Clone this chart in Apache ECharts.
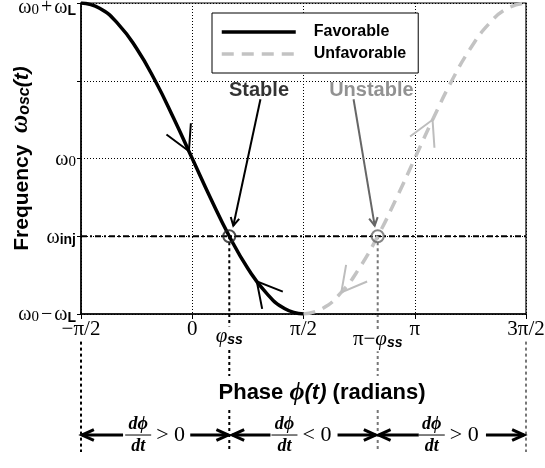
<!DOCTYPE html>
<html>
<head>
<meta charset="utf-8">
<script src="https://cdn.jsdelivr.net/npm/echarts@6/dist/echarts.min.js"></script>
<style>
  html, body { margin: 0; padding: 0; background: #fff; }
  #chart { width: 545px; height: 468px; }
</style>
</head>
<body>
<div id="chart"></div>
<script>
// phase in units of pi/2 (-1 = -pi/2 ... 3 = 3pi/2), frequency in units of wL around w0
const xTickLabels = ['−π/2', '0', 'π/2', 'π', '3π/2'];
const yTickValues = [-1, -0.5, 0, 0.5, 1];
const yTickLabels = [
  '{w|ω}{s|0}{o|−}{w|ω}{L|L}',
  '{w|ω}{L|inj}',
  '{w|ω}{s|0}',
  '',
  '{sp| }{w|ω}{s|0}{o|+}{w|ω}{L|L}'
];

const favPhase = [-1, -0.833, -0.667, -0.5, -0.333, -0.167, 0, 0.167, 0.333, 0.5, 0.667, 0.833, 1];
const favFreq = [1, 0.966, 0.866, 0.707, 0.5, 0.259, 0, -0.259, -0.5, -0.707, -0.866, -0.966, -1];
const unfavPhase = [1, 1.167, 1.333, 1.5, 1.667, 1.833, 2, 2.167, 2.333, 2.5, 2.667, 2.833, 3];
const unfavFreq = [-1, -0.966, -0.866, -0.707, -0.5, -0.259, 0, 0.259, 0.5, 0.707, 0.866, 0.966, 1];

const lockPhase = [0.333, 1.667]; // phi_ss and pi - phi_ss
const injFreq = -0.5;

// flow marks on the curves: [tip x, tip y, tail x, tail y]
const favFlow = [[-0.03, 0.047, -0.13, 0.203], [0.58, -0.79, 0.68, -0.876]];
const unfavFlow = [[2.16, 0.249, 2.06, 0.094], [1.34, -0.861, 1.44, -0.771]];

// notes and the pointers from them to the lock points
const notes = ['Stable', 'Unstable'];
const noteColors = ['#000', '#777'];
const notePhase = [0.6, 1.61];
const noteFreq = [0.44, 0.44];
const pointerStable = [[0.613, 0.381, 0.369, -0.432]];
const pointerUnstable = [[1.45, 0.381, 1.64, -0.432]];

// bottom strip (0 = bottom, 1 = axis line)
const rowY = 0.123;
const fracPhase = [-0.486, 0.829, 2.153];
const fracSign = ['>', '<', '>'];
const rowArrows = [
  [-0.622, rowY, -0.991, rowY], [-0.018, rowY, 0.324, rowY],
  [0.703, rowY, 0.36, rowY], [1.306, rowY, 1.649, rowY],
  [2.036, rowY, 1.676, rowY], [2.64, rowY, 2.982, rowY]
];

const chart = echarts.init(document.getElementById('chart'));

function chevron(tip, tail, len, half) {
  const a = Math.atan2(tail[1] - tip[1], tail[0] - tip[0]);
  return [
    [tip[0] + len * Math.cos(a - half), tip[1] + len * Math.sin(a - half)],
    tip,
    [tip[0] + len * Math.cos(a + half), tip[1] + len * Math.sin(a + half)]
  ];
}

function headOnly(color, len, half, width) {
  return function (params, api) {
    const tip = api.coord([api.value(0), api.value(1)]);
    const tail = api.coord([api.value(2), api.value(3)]);
    return {
      type: 'polyline',
      shape: { points: chevron(tip, tail, len, half) },
      style: { fill: 'none', stroke: color, lineWidth: width }
    };
  };
}

function fullArrow(color, len, half, width) {
  return function (params, api) {
    const start = api.coord([api.value(0), api.value(1)]);
    const end = api.coord([api.value(2), api.value(3)]);
    return {
      type: 'group',
      children: [
        { type: 'line', shape: { x1: start[0], y1: start[1], x2: end[0], y2: end[1] },
          style: { stroke: color, lineWidth: width } },
        { type: 'polyline', shape: { points: chevron(end, start, len, half) },
          style: { fill: 'none', stroke: color, lineWidth: width } }
      ]
    };
  };
}

const serif = '"Liberation Serif", "DejaVu Serif", serif';
const sans = '"Liberation Sans", Arial, sans-serif';

function dropLine(x, from, to, color, grid) {
  return {
    type: 'line', xAxisIndex: grid, yAxisIndex: grid, z: 2, silent: true,
    symbol: 'none', data: [[x, from], [x, to]],
    lineStyle: { color: color, width: 2, type: [3, 3] }
  };
}

chart.setOption({
  animation: false,
  grid: [
    { left: 81, right: 19, top: 3, bottom: 154, outerBoundsMode: 'none', show: true, borderColor: '#000', borderWidth: 1.2 },
    { left: 81, right: 19, top: 314, bottom: 16, outerBoundsMode: 'none' }
  ],
  legend: {
    data: ['Favorable', 'Unfavorable'],
    orient: 'vertical',
    left: 212,
    top: 13,
    z: 10,
    padding: [11, 12, 11, 8],
    itemGap: 6,
    itemWidth: 74,
    itemHeight: 14,
    backgroundColor: '#fff',
    borderColor: '#000',
    borderWidth: 1,
    itemStyle: { opacity: 0 },
    lineStyle: { width: 3.5 },
    textStyle: { color: '#000', fontFamily: sans, fontWeight: 'bold', fontSize: 16, padding: [0, 0, 0, 13] }
  },
  xAxis: [
    {
      gridIndex: 0, type: 'value', min: -1, max: 3, interval: 1, z: 3,
      axisLine: { onZero: false, lineStyle: { color: '#000', width: 1.5 } },
      axisTick: { length: 5, lineStyle: { color: '#000' } },
      splitLine: { lineStyle: { color: '#000', width: 1, type: [1, 2] } },
      axisLabel: {
        margin: 5, color: '#000', fontFamily: serif, fontSize: 21,
        formatter: (v) => xTickLabels[Math.round(v) + 1]
      },
      name: '{a|Phase }{p|ϕ}{t|(t)}{a| (radians)}',
      nameLocation: 'middle',
      nameGap: 62,
      nameMoveOverlap: false,
      nameTextStyle: {
        backgroundColor: '#fff', padding: [4, 0, 4, 37],
        rich: {
          a: { fontFamily: sans, fontWeight: 'bold', fontSize: 22, color: '#000' },
          p: { fontFamily: serif, fontStyle: 'italic', fontWeight: 'bold', fontSize: 26, color: '#000' },
          t: { fontFamily: sans, fontStyle: 'italic', fontWeight: 'bold', fontSize: 22, color: '#000' }
        }
      }
    },
    { gridIndex: 1, type: 'value', min: -1, max: 3, show: false }
  ],
  yAxis: [
    {
      gridIndex: 0, type: 'value', min: -1, max: 1, interval: 0.5,
      axisLine: { onZero: false, lineStyle: { color: '#000', width: 1.5 } },
      axisTick: { length: 4, lineStyle: { color: '#000' } },
      splitLine: { lineStyle: { color: '#000', width: 1, type: [1, 2] } },
      axisLabel: {
        margin: 5, color: '#000',
        formatter: (v) => yTickLabels[yTickValues.indexOf(v)] || '',
        rich: {
          sp: { fontSize: 1, lineHeight: 30, verticalAlign: 'bottom' },
          w: { fontFamily: serif, fontSize: 20, lineHeight: 22, verticalAlign: 'bottom', color: '#000' },
          s: { fontFamily: serif, fontSize: 15, lineHeight: 10, verticalAlign: 'bottom', color: '#000' },
          o: { fontFamily: serif, fontSize: 20, lineHeight: 22, verticalAlign: 'bottom', color: '#000', padding: [0, 2, 0, 2] },
          L: { fontFamily: sans, fontWeight: 'bold', fontSize: 14, lineHeight: 10, verticalAlign: 'bottom', color: '#000' }
        }
      },
      name: '{a|Frequency  }{w|ω}{s|osc}{t|(t)}',
      nameLocation: 'middle',
      nameRotate: 90,
      nameGap: 48,
      nameMoveOverlap: false,
      nameTextStyle: {
        rich: {
          a: { fontFamily: sans, fontWeight: 'bold', fontSize: 21, lineHeight: 26, verticalAlign: 'bottom', color: '#000' },
          w: { fontFamily: serif, fontStyle: 'italic', fontWeight: 'bold', fontSize: 25, lineHeight: 26, verticalAlign: 'bottom', color: '#000' },
          s: { fontFamily: sans, fontStyle: 'italic', fontWeight: 'bold', fontSize: 16, lineHeight: 12, verticalAlign: 'bottom', color: '#000' },
          t: { fontFamily: sans, fontStyle: 'italic', fontWeight: 'bold', fontSize: 21, lineHeight: 26, verticalAlign: 'bottom', color: '#000' }
        }
      }
    },
    { gridIndex: 1, type: 'value', min: 0, max: 1, show: false }
  ],
  series: [
    {
      name: 'Favorable', type: 'line', z: 4, smooth: true, showSymbol: false, symbol: 'none',
      data: favPhase.map((x, i) => [x, favFreq[i]]),
      lineStyle: { color: '#000', width: 3.5 }, itemStyle: { color: '#000' }
    },
    {
      name: 'Unfavorable', type: 'line', z: 4, smooth: true, showSymbol: false, symbol: 'none',
      data: unfavPhase.map((x, i) => [x, unfavFreq[i]]),
      lineStyle: { color: '#c3c3c3', width: 3.5, type: [12, 8] }, itemStyle: { color: '#c3c3c3' }
    },
    {
      name: 'inj', type: 'line', z: 3, symbol: 'none', silent: true,
      data: [[-1, injFreq], [3, injFreq]],
      lineStyle: { color: '#000', width: 2, type: [6, 3, 2, 3] }
    },
    dropLine(lockPhase[0], injFreq, -1, '#000', 0),
    dropLine(lockPhase[1], injFreq, -1, '#777', 0),
    dropLine(-1, 0.8, 0, '#000', 1),
    dropLine(lockPhase[0], 1, 0, '#000', 1),
    dropLine(lockPhase[1], 1, 0, '#777', 1),
    dropLine(3, 0.8, 0, '#777', 1),
    {
      name: 'lock', type: 'scatter', z: 6, symbol: 'circle', symbolSize: 12,
      data: lockPhase.map((x, i) => ({
        value: [x, injFreq],
        itemStyle: { color: 'transparent', borderColor: i === 0 ? '#222' : '#666', borderWidth: 2 }
      }))
    },
    { name: 'favFlow', type: 'custom', z: 5, renderItem: headOnly('#000', 28, 0.5, 2), data: favFlow },
    { name: 'unfavFlow', type: 'custom', z: 5, renderItem: headOnly('#bdbdbd', 28, 0.5, 2), data: unfavFlow },
    { name: 'pointerStable', type: 'custom', z: 5, renderItem: fullArrow('#000', 9, 0.5, 2), data: pointerStable },
    { name: 'pointerUnstable', type: 'custom', z: 5, renderItem: fullArrow('#666', 9, 0.5, 2), data: pointerUnstable },
    {
      name: 'notes', type: 'scatter', z: 6, symbolSize: 0,
      data: notes.map((n, i) => ({
        value: [notePhase[i], noteFreq[i]], name: n, label: { color: noteColors[i] }
      })),
      label: {
        show: true, position: 'inside', formatter: '{b}', fontFamily: sans, fontWeight: 'bold', fontSize: 20
      }
    },
    {
      name: 'phaseMarks', type: 'custom', xAxisIndex: 1, yAxisIndex: 1, z: 4,
      data: [[lockPhase[0], 0.83, 0], [lockPhase[1], 0.81, 1]],
      renderItem: function (params, api) {
        const p = api.coord([api.value(0), api.value(1)]);
        const txt = api.value(2) === 0 ? '{p|φ}{s|ss}' : '{n|π−}{p|φ}{s|ss}';
        return {
          type: 'text', x: p[0], y: p[1],
          style: {
            text: txt, align: 'center', verticalAlign: 'middle', backgroundColor: '#fff', padding: [1, 1],
            rich: {
              p: { fontFamily: serif, fontStyle: 'italic', fontSize: 21, lineHeight: 20, verticalAlign: 'bottom', fill: '#000' },
              n: { fontFamily: serif, fontSize: 21, lineHeight: 20, verticalAlign: 'bottom', fill: '#000' },
              s: { fontFamily: sans, fontStyle: 'italic', fontWeight: 'bold', fontSize: 14, lineHeight: 10, verticalAlign: 'bottom', fill: '#000' }
            }
          }
        };
      }
    },
    {
      name: 'rowArrows', type: 'custom', xAxisIndex: 1, yAxisIndex: 1, z: 4,
      renderItem: fullArrow('#000', 13, 0.42, 3), data: rowArrows
    },
    {
      name: 'fractions', type: 'custom', xAxisIndex: 1, yAxisIndex: 1, z: 4,
      data: fracPhase.map((x, i) => [x, rowY, i]),
      renderItem: function (params, api) {
        const p = api.coord([api.value(0), api.value(1)]);
        const cx = p[0], cy = p[1];
        const fracFont = 'italic bold 18px ' + serif;
        return {
          type: 'group',
          children: [
            { type: 'text', style: { x: cx, y: cy - 2, text: 'dϕ', font: fracFont, align: 'center', verticalAlign: 'bottom', fill: '#000' } },
            { type: 'line', shape: { x1: cx - 13, y1: cy, x2: cx + 13, y2: cy }, style: { stroke: '#000', lineWidth: 1 } },
            { type: 'text', style: { x: cx, y: cy + 2, text: 'dt', font: fracFont, align: 'center', verticalAlign: 'top', fill: '#000' } },
            { type: 'text', style: { x: cx + 18, y: cy, text: fracSign[api.value(2)] + ' 0', font: '22px ' + serif, align: 'left', verticalAlign: 'middle', fill: '#000' } }
          ]
        };
      }
    }
  ]
});
</script>
</body>
</html>
